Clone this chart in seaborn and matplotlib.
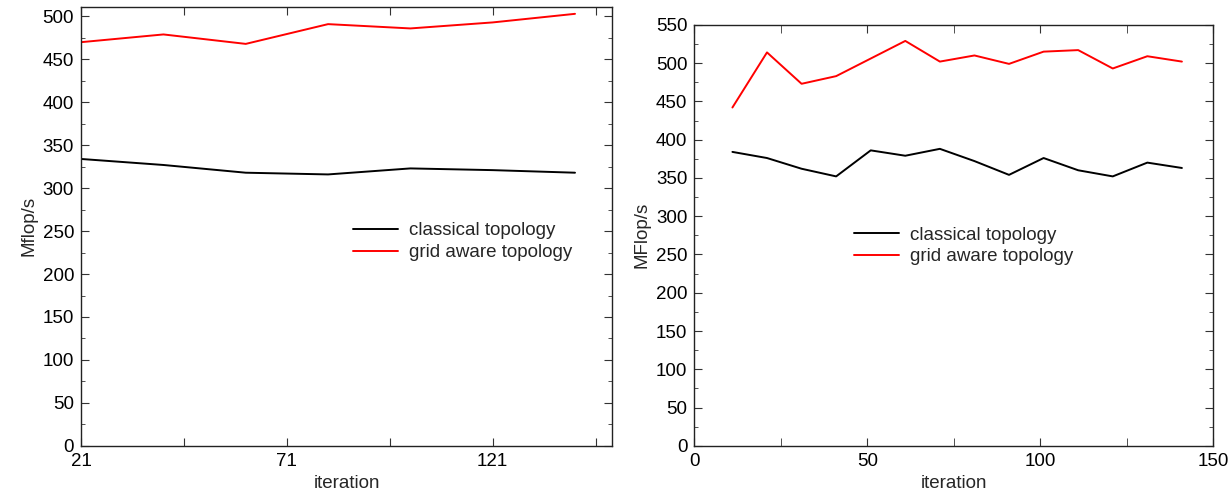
import pandas as pd
import matplotlib
matplotlib.use("Agg")
import matplotlib.pyplot as plt
from matplotlib.ticker import MultipleLocator
import seaborn as sns

# left panel data
left_iter = [21, 41, 61, 81, 101, 121, 141]
left_classical = [334, 327, 318, 316, 323, 321, 318]
left_grid = [470, 479, 468, 491, 486, 493, 503]

# right panel data
right_iter = [11, 21, 31, 41, 51, 61, 71, 81, 91, 101, 111, 121, 131, 141]
right_classical = [384, 376, 362, 352, 386, 379, 388, 372, 354, 376, 360, 352, 370, 363]
right_grid = [442, 514, 473, 483, 506, 529, 502, 510, 499, 515, 517, 493, 509, 502]

labels = ["classical topology", "grid aware topology"]
colors = {"classical topology": "black", "grid aware topology": "red"}


def make_df(it, a, b):
    d1 = pd.DataFrame({"iteration": it, "value": a, "series": labels[0]})
    d2 = pd.DataFrame({"iteration": it, "value": b, "series": labels[1]})
    return pd.concat([d1, d2], ignore_index=True)


sns.set_style("ticks")
plt.rcParams["font.family"] = ["Liberation Sans", "DejaVu Sans"]
fs = 13.5

fig = plt.figure(figsize=(12.29, 4.97), dpi=100)
ax1 = fig.add_axes([0.066, 0.103, 0.432, 0.883])
ax2 = fig.add_axes([0.565, 0.103, 0.422, 0.847])

df1 = make_df(left_iter, left_classical, left_grid)
sns.lineplot(data=df1, x="iteration", y="value", hue="series", palette=colors,
             ax=ax1, linewidth=1.4)
df2 = make_df(right_iter, right_classical, right_grid)
sns.lineplot(data=df2, x="iteration", y="value", hue="series", palette=colors,
             ax=ax2, linewidth=1.4)

ax1.set_xlim(21, 150)
ax1.set_ylim(0, 511)
ax1.set_xticks([21, 46, 71, 96, 121, 146])
ax1.set_xticklabels(["21", "", "71", "", "121", ""])
ax1.set_yticks(range(0, 501, 50))
ax1.yaxis.set_minor_locator(MultipleLocator(25))
ax1.set_ylabel("Mflop/s", fontsize=fs)

ax2.set_xlim(0, 150)
ax2.set_ylim(0, 550)
ax2.set_xticks([0, 50, 100, 150])
ax2.xaxis.set_minor_locator(MultipleLocator(25))
ax2.set_yticks(range(0, 551, 50))
ax2.yaxis.set_minor_locator(MultipleLocator(25))
ax2.set_ylabel("MFlop/s", fontsize=fs)

for ax in (ax1, ax2):
    ax.set_xlabel("iteration", fontsize=fs)
    ax.tick_params(which="both", direction="in", top=True, right=True,
                   labelsize=fs, color="#333333", labelcolor="black")
    ax.tick_params(which="major", length=6, pad=5)
    ax.tick_params(which="minor", length=3)
    for s in ax.spines.values():
        s.set_linewidth(1.0)
        s.set_color("#222222")

ax2.tick_params(axis="x", which="minor", length=6)

ax1.legend(title=None, frameon=False, loc="center left",
           bbox_to_anchor=(0.48, 0.465), fontsize=fs, handlelength=2.4,
           handletextpad=0.6, labelspacing=0.25)
ax2.legend(title=None, frameon=False, loc="center left",
           bbox_to_anchor=(0.275, 0.475), fontsize=fs, handlelength=2.4,
           handletextpad=0.6, labelspacing=0.25)

fig.savefig("out.png", dpi=100)
